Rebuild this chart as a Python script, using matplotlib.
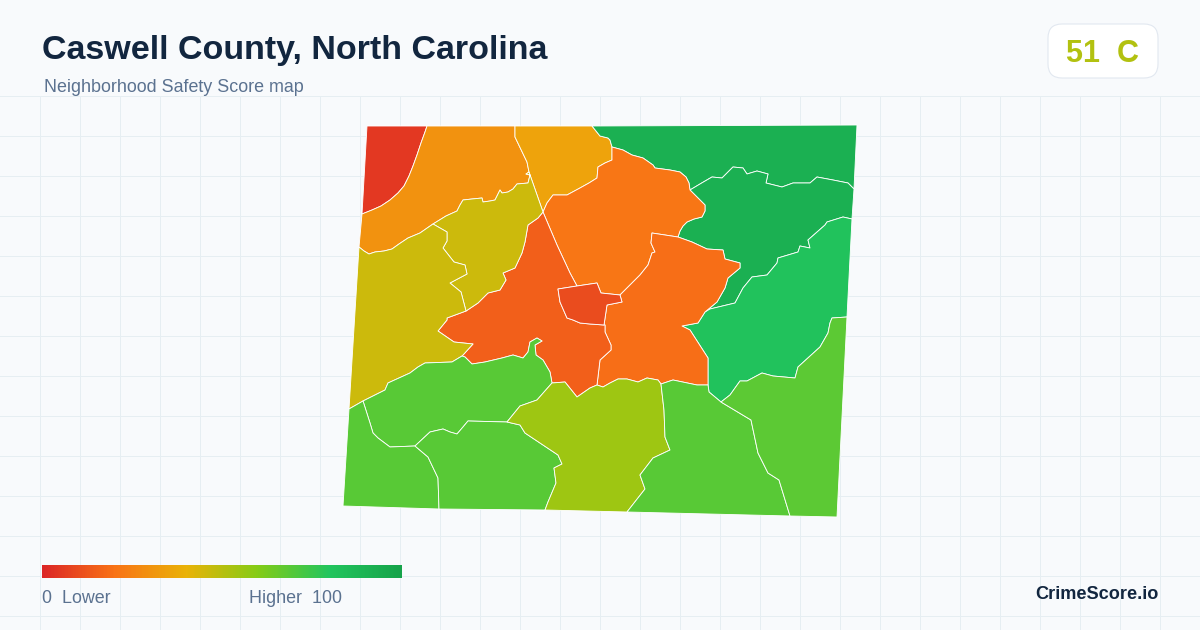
import numpy as np
import matplotlib
matplotlib.use('Agg')
import matplotlib.pyplot as plt
from matplotlib.colors import LinearSegmentedColormap, Normalize
from matplotlib.patches import FancyBboxPatch, Polygon

plt.rcParams['font.family'] = ['Liberation Sans', 'DejaVu Sans']

title = 'Caswell County, North Carolina'
subtitle = 'Neighborhood Safety Score map'
county_score = 51
county_grade = 'C'

scale_stops = [0, 0.2, 0.4, 0.6, 0.8, 1]
scale_colors = ['#dc2626', '#f97316', '#eab308', '#84cc16', '#22c55e', '#16a34a']

# tract borders in image pixels
nw_red = [(427, 126), (425, 132), (421, 143), (417, 155), (413, 166), (409, 176), (404, 186), (398, 193), (390, 200),
          (381, 206), (372, 210), (362, 214)]
n_south_w = [(359, 247), (364, 251), (369, 254), (375, 252), (384, 251), (392, 249), (399, 244), (408, 238),
             (420, 233), (433, 224)]
n_south_e = [(433, 224), (446, 216), (457, 211), (460, 205), (463, 200), (472, 199), (482, 198), (483, 202), (490, 201),
             (495, 200), (500, 190), (502, 193), (508, 192), (513, 189), (517, 184), (528, 183), (530, 175), (526, 174),
             (529, 172)]
ridge_upper = [(515, 126), (515, 137), (527, 162), (529, 172)]
ridge_mid = [(529, 172), (543, 212)]
ridge_lower = [(543, 212), (557, 245), (570, 273), (577, 286)]
amber_green = [(592, 126), (600, 136), (608, 138), (610, 140), (612, 147)]
amber_south = [(612, 147), (612, 160), (605, 163), (598, 167), (597, 178), (589, 183), (580, 188), (567, 195), (553, 195),
               (547, 203), (543, 212)]
olive_split = [(433, 224), (447, 232), (447, 241), (443, 248), (454, 262), (465, 265), (467, 274), (450, 283),
               (461, 292), (466, 311)]
olive_east = [(543, 212), (538, 218), (528, 225), (525, 242), (522, 253), (515, 268), (503, 273), (506, 280),
              (500, 290), (488, 293), (478, 303), (466, 311)]
olive_tail = [(466, 311), (447, 318), (447, 320), (438, 331), (454, 342), (473, 344), (463, 355), (462, 356)]
olive_w_south = [(363, 401), (385, 390), (388, 383), (410, 373), (418, 367), (425, 363), (452, 362), (462, 356)]
cw_south = [(462, 356), (465, 357), (472, 364), (485, 362), (502, 358), (513, 355), (523, 358), (528, 352),
            (530, 342), (537, 338), (542, 341), (535, 345), (536, 355), (543, 360), (550, 372), (552, 383)]
cw_se = [(552, 383), (565, 382), (577, 397), (590, 388), (597, 385)]
cw_east = [(597, 385), (600, 360), (611, 350), (611, 345), (605, 332), (605, 325), (604, 325)]
center_west = [(577, 286), (558, 289), (560, 302), (567, 318), (573, 320), (580, 323), (590, 324), (604, 325)]
center_top_e = [(577, 286), (597, 283), (601, 293), (620, 295)]
center_e = [(604, 325), (607, 305), (622, 302), (620, 295)]
cn_ce = [(620, 295), (640, 275), (648, 265), (652, 253), (655, 252), (651, 243), (652, 233), (678, 237)]
cn_east_s = [(678, 237), (680, 231), (683, 226), (687, 222), (694, 219), (702, 217), (705, 211), (705, 205), (698, 198),
             (690, 190)]
cn_east_n = [(690, 190), (689, 183), (686, 177), (680, 172), (670, 170), (655, 168), (653, 165), (643, 158), (632, 155),
             (623, 150), (612, 147)]
e1_e2 = [(690, 190), (700, 184), (712, 177), (722, 178), (733, 167), (743, 168), (747, 174), (757, 171), (768, 174), (766, 183),
         (782, 187), (793, 183), (810, 183), (817, 177), (833, 180), (848, 183), (854, 189)]
ce_north = [(678, 237), (692, 242), (707, 249), (723, 250), (725, 259), (740, 263), (740, 268), (728, 278),
            (725, 288), (717, 302), (705, 312)]
e2_e3 = [(705, 312), (710, 309), (735, 303), (743, 288), (752, 277), (767, 275), (777, 263), (778, 258), (798, 252),
         (800, 246), (810, 248), (808, 240), (825, 225), (827, 222), (843, 217), (852, 219)]
ce_e3 = [(705, 312), (698, 323), (682, 326), (690, 330), (708, 358), (708, 385)]
ce_south_e = [(708, 385), (697, 385), (673, 380), (661, 384)]
ce_south_w = [(661, 384), (658, 380), (647, 378), (638, 382), (627, 379), (618, 379), (610, 383), (603, 387), (597, 385)]
e3_s_a = [(708, 385), (709, 392), (721, 402)]
e3_south = [(721, 402), (730, 395), (740, 381), (747, 381), (762, 373), (773, 376), (795, 378), (798, 367),
            (820, 347), (828, 333), (830, 323), (832, 318), (847, 317)]
se_west = [(721, 402), (751, 420), (758, 453), (768, 473), (779, 480), (790, 516)]
olive_s_east = [(661, 384), (664, 410), (665, 437), (670, 450), (653, 458), (640, 475), (645, 489), (627, 512)]
olive_s_nw = [(552, 383), (537, 400), (520, 406), (507, 422)]
olive_s_west = [(507, 422), (520, 425), (525, 433), (558, 455), (562, 464), (554, 468), (556, 483), (548, 502), (545, 510)]
s2_top = [(507, 422), (468, 421), (463, 427), (457, 434), (450, 432), (443, 429), (430, 432), (415, 446)]
sw_top = [(415, 446), (390, 447), (378, 438), (373, 433), (370, 423), (363, 401)]
sw_s2 = [(415, 446), (428, 457), (438, 478), (439, 509)]

tract_shapes = [
    [(367, 126)] + nw_red,
    nw_red[::-1] + ridge_upper + n_south_e[::-1] + n_south_w[::-1],
    amber_green + amber_south + ridge_mid[::-1] + ridge_upper[::-1],
    [(857, 125)] + e1_e2[::-1] + cn_east_n + amber_green[::-1],
    e1_e2 + e2_e3[::-1] + ce_north[::-1] + cn_east_s,
    e2_e3 + e3_south[::-1] + e3_s_a[::-1] + ce_e3[::-1],
    ridge_lower + center_top_e + cn_ce + cn_east_s + cn_east_n + amber_south,
    cn_ce + ce_north + ce_e3 + ce_south_e + ce_south_w + cw_east + center_e,
    ridge_lower + center_west + cw_east[::-1] + cw_se[::-1] + cw_south[::-1] + olive_tail[::-1] + olive_east[::-1],
    center_west + center_e + center_top_e[::-1],
    n_south_e + ridge_mid + olive_east + olive_split[::-1],
    n_south_w + olive_split + olive_tail + olive_w_south[::-1] + [(349, 409)],
    olive_w_south + cw_south + olive_s_nw + s2_top + sw_top,
    sw_top[::-1] + sw_s2 + [(343, 506), (349, 409)],
    s2_top[::-1] + olive_s_west + sw_s2[::-1],
    cw_se + ce_south_w[::-1] + olive_s_east + olive_s_west[::-1] + olive_s_nw[::-1],
    ce_south_e[::-1] + e3_s_a + se_west + olive_s_east[::-1],
    e3_south + [(837, 517)] + se_west[::-1],
]
tract_scores = [5, 30, 35, 92, 92, 82, 21, 19, 15, 10, 46, 46, 69, 69, 69, 55, 69, 68]

ink = '#12263f'
muted = '#5b7290'
grid_color = '#e6eef2'

cmap = LinearSegmentedColormap.from_list('safety', list(zip(scale_stops, scale_colors)))
norm = Normalize(0, 100)

fig = plt.figure(figsize=(12, 6.3), dpi=100, facecolor='#f8fafc')
ax = fig.add_axes([0, 0, 1, 1])
ax.set_xlim(0, 1200)
ax.set_ylim(630, 0)
ax.axis('off')

for x in range(40, 1200, 40):
    ax.plot([x, x], [96, 630], color=grid_color, lw=0.72, zorder=1)
for y in range(96, 630, 40):
    ax.plot([0, 1200], [y, y], color=grid_color, lw=0.72, zorder=1)

for shape, score in zip(tract_shapes, tract_scores):
    ax.add_patch(Polygon(shape, closed=True, facecolor=cmap(norm(score)), edgecolor='white',
                         lw=0.62, joinstyle='round', zorder=2))

ax.text(42, 50, title, fontsize=24.5, fontweight='bold', color=ink, va='center', ha='left')
ax.text(44, 87, subtitle, fontsize=12.9, color=muted, va='center', ha='left')

ax.add_patch(FancyBboxPatch((1062, 38), 82, 26, boxstyle='round,pad=14,rounding_size=14', facecolor='white',
                            edgecolor='#e2e8f0', lw=0.8, zorder=3))
ax.text(1103, 54, f'{county_score}  {county_grade}', fontsize=22, fontweight='bold',
        color=cmap(norm(county_score)), va='center', ha='center', zorder=4)

gradient = np.linspace(0, 1, 360).reshape(1, -1)
ax.imshow(gradient, cmap=cmap, extent=(42, 402, 578, 565), aspect='auto', zorder=3)
ax.set_xlim(0, 1200)
ax.set_ylim(630, 0)

ax.text(42, 598.5, '0  Lower', fontsize=12.9, color=muted, va='center', ha='left', zorder=4)
ax.text(249, 598.5, 'Higher  100', fontsize=12.9, color=muted, va='center', ha='left', zorder=4)
ax.text(1159, 594.5, 'CrimeScore.io', fontsize=13.1, fontweight='bold', color=ink, va='center', ha='right', zorder=4)

fig.savefig('out.png', dpi=100, facecolor=fig.get_facecolor())
